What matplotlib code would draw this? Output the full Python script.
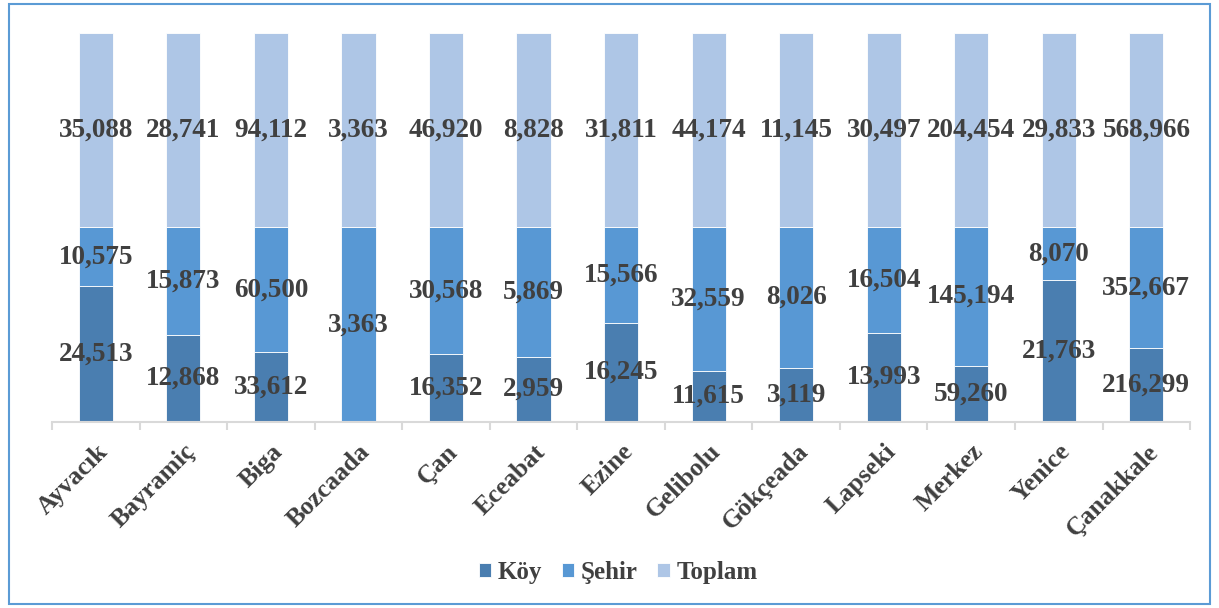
import numpy as np
import matplotlib.pyplot as plt
from matplotlib.patches import Rectangle

# data
ilceler = ["Ayvacık", "Bayramiç", "Biga", "Bozcaada", "Çan", "Eceabat", "Ezine",
           "Gelibolu", "Gökçeada", "Lapseki", "Merkez", "Yenice", "Çanakkale"]
koy = [24513, 12868, 33612, 0, 16352, 2959, 16245, 11615, 3119, 13993, 59260, 21763, 216299]
sehir = [10575, 15873, 60500, 3363, 30568, 5869, 15566, 32559, 8026, 16504, 145194, 8070, 352667]
toplam = [35088, 28741, 94112, 3363, 46920, 8828, 31811, 44174, 11145, 30497, 204454, 29833, 568966]

series = [("Köy", koy, "#4A7EB0"), ("Şehir", sehir, "#5898D4"), ("Toplam", toplam, "#AEC6E6")]
txt = "#404040"

plt.rcParams['font.family'] = ['Liberation Serif', 'DejaVu Serif']
plt.rcParams['font.weight'] = 'bold'

fig = plt.figure(figsize=(12.19, 6.08), dpi=100)
ax = fig.add_axes([0.0427, 0.306, 0.9336, 0.640])

x = np.arange(len(ilceler))
sums = np.array(koy) + np.array(sehir) + np.array(toplam)
bottom = np.zeros(len(ilceler))
for name, vals, col in series:
    v = np.array(vals, dtype=float)
    frac = v / sums
    ax.bar(x, frac, width=0.39, bottom=bottom, color=col, edgecolor="white",
           linewidth=0.6, label=name)
    for i in range(len(x)):
        if v[i] > 0:
            ax.text(x[i], bottom[i] + frac[i] / 2, f"{int(v[i]):,}", ha="center", va="center",
                    fontsize=19.5, fontweight="bold", color=txt)
    bottom += frac

ax.set_xlim(-0.5, len(ilceler) - 0.5)
ax.set_ylim(0, 1)
ax.set_yticks([])
for s in ["top", "right", "left"]:
    ax.spines[s].set_visible(False)
ax.spines["bottom"].set_color("#D9D9D9")
ax.spines["bottom"].set_linewidth(1.5)

ax.set_xticks(x)
ax.set_xticklabels(ilceler, rotation=45, ha="right", va="top", rotation_mode="anchor",
                   fontsize=18.5, fontweight="bold", color=txt)
ax.tick_params(axis="x", which="major", length=0, pad=13)
ax.set_xticks(np.arange(-0.5, len(ilceler)), minor=True)
ax.tick_params(axis="x", which="minor", length=6, width=1.5, color="#D9D9D9")

fig.legend(loc="center", bbox_to_anchor=(0.507, 0.059), ncol=3, frameon=False,
           handlelength=0.5, handleheight=0.5, handletextpad=0.25, columnspacing=0.8,
           prop={"size": 18, "weight": "bold"}, labelcolor=txt)

fig.patches.append(Rectangle((0.007, 0.007), 0.986, 0.986, transform=fig.transFigure,
                             fill=False, edgecolor="#5B9BD5", linewidth=1.5))

plt.savefig("out.png", dpi=100)
